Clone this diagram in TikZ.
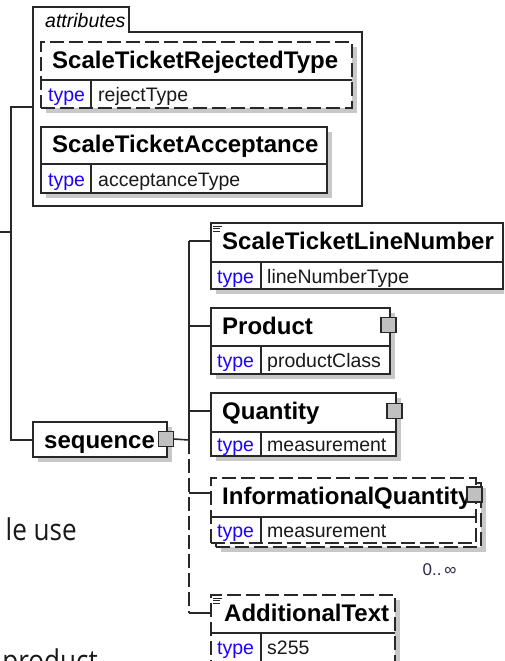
\documentclass[tikz,border=0pt]{standalone}
\usepackage{fontspec}
\setmainfont{Liberation Sans}
\newfontfamily\docfont{Open Sans}
\usetikzlibrary{calc,shadows}
\definecolor{linec}{RGB}{40,40,40}
\definecolor{shadowc}{RGB}{200,200,200}
\definecolor{sqc}{RGB}{192,192,192}
\definecolor{typec}{RGB}{30,0,255}
\definecolor{occc}{RGB}{40,40,80}
\definecolor{doctext}{RGB}{25,25,25}
\newcommand\namefont{\fontsize{24}{28}\selectfont\bfseries}
\newcommand\rowfont{\fontsize{19.5}{23}\selectfont}
\newcommand\rowlines[3]{%
  \draw[boxline] ($(#1.north west)+(0,#2)$) -- ($(#1.north east)+(0,#2)$);
  \draw[boxline] ($(#1.north west)+(#3,#2)$) -- ($(#1.south west)+(#3,0)$);}
\newcommand\docicon[1]{%
  \draw[linec, line width=0.9pt] ($(#1.north west)+(2,3)$) -- +(9,0)
    ($(#1.north west)+(2,5.5)$) -- +(7,0)
    ($(#1.north west)+(2,8)$) -- +(7,0);}
\begin{document}
\begin{tikzpicture}[x=1pt,y=-1pt,
  boxline/.style={draw=linec, line width=1.6pt},
  conn/.style={draw=linec, line width=1.6pt},
  optline/.style={dash pattern=on 14pt off 5pt},
  elembox/.style={rectangle, draw=linec, line width=1.6pt, fill=white,
    inner sep=0pt, outer sep=0pt, anchor=north west,
    drop shadow={shadow xshift=5pt, shadow yshift=-5pt, opacity=1, fill=shadowc, draw=none}},
  plainbox/.style={rectangle, draw=linec, line width=1.6pt, fill=white,
    inner sep=0pt, outer sep=0pt, anchor=north west},
  optbox/.style={elembox, optline},
  nametext/.style={font=\namefont, anchor=base west, inner sep=0pt, text=black},
  typetext/.style={font=\rowfont, anchor=base west, inner sep=0pt, text=typec},
  valtext/.style={font=\rowfont, anchor=base west, inner sep=0pt, text=black!90},
  bgtext/.style={font=\docfont\fontsize{30}{36}\selectfont, anchor=base east, inner sep=0pt, text=doctext},
  kidsq/.style={rectangle, minimum size=15pt, draw=linec, fill=sqc, line width=1.5pt,
    inner sep=0pt, outer sep=0pt}
]
\useasboundingbox (0,0) rectangle (504,661);
\clip (0,0) rectangle (504,661);

% background document text
\node[bgtext] (bg1) at (77,540.7) {\scalebox{0.87}[1]{le use}};
\node[bgtext] (bg2) at (98,671) {\scalebox{0.87}[1]{product}};

% attributes group
\node[inner sep=0pt, outer sep=0pt, minimum width=329pt, minimum height=174pt, anchor=north west] (attrgrp) at (33,32) {};
\draw[boxline] (attrgrp.south west) -- (33,7) -- (129,7) -- (129,32) -- (attrgrp.north east) -- (attrgrp.south east) -- cycle;
\node[font=\rowfont\itshape, anchor=base west, inner sep=0pt] (attrlbl) at (45,27.5) {attributes};

% ScaleTicketRejectedType (optional)
\node[optbox, minimum width=311pt, minimum height=66pt] (str) at (41,42) {};
\rowlines{str}{38}{50}
\node[nametext] (strn) at (52,68) {ScaleTicketRejectedType};
\node[typetext] (strt) at (48,101) {type};
\node[valtext] (strv) at (98,101) {rejectType};

% ScaleTicketAcceptance
\node[elembox, minimum width=286pt, minimum height=66pt] (sta) at (41,127) {};
\rowlines{sta}{37}{50}
\node[nametext] (stan) at (52,152.5) {ScaleTicketAcceptance};
\node[typetext] (stat) at (48,186) {type};
\node[valtext] (stav) at (98,186) {acceptanceType};

% sequence
\node[elembox, minimum width=134pt, minimum height=35pt] (seq) at (33,422) {};
\node[nametext] (seqn) at (44,448) {sequence};
\node[kidsq] (seqsq) at (166,439) {};

% ScaleTicketLineNumber
\node[elembox, minimum width=292pt, minimum height=66pt] (stln) at (211,223) {};
\rowlines{stln}{39}{50}
\docicon{stln}
\node[nametext] (stlnn) at (222,249.5) {ScaleTicketLineNumber};
\node[typetext] (stlnt) at (217,283) {type};
\node[valtext] (stlnv) at (267,283) {lineNumberType};

% Product
\node[elembox, minimum width=179pt, minimum height=66pt] (prod) at (211,308) {};
\rowlines{prod}{38}{50}
\node[nametext] (prodn) at (222,334) {Product};
\node[typetext] (prodt) at (217,367) {type};
\node[valtext] (prodv) at (267,367) {productClass};
\node[kidsq] (prodsq) at (388.5,325) {};

% Quantity
\node[elembox, minimum width=185pt, minimum height=63pt] (qty) at (211,393) {};
\rowlines{qty}{39}{50}
\node[nametext] (qtyn) at (222,419.5) {Quantity};
\node[typetext] (qtyt) at (217,451) {type};
\node[valtext] (qtyv) at (267,451) {measurement};
\node[kidsq] (qtysq) at (394.5,411) {};

% InformationalQuantity (optional, repeated)
\node[optbox, minimum width=265pt, minimum height=64pt] (iqb) at (216,483) {};
\node[plainbox, optline, minimum width=265pt, minimum height=65pt] (iq) at (211,478) {};
\rowlines{iq}{39}{50}
\node[nametext] (iqn) at (222,504.5) {InformationalQuantity};
\node[typetext] (iqt) at (217,537) {type};
\node[valtext] (iqv) at (267,537) {measurement};
\node[kidsq] (iqsq) at (474.5,494.5) {};
\node[font=\fontsize{17}{20}\selectfont, text=occc, inner sep=0pt] (iqocc) at (439.5,570) {0..\,∞};

% AdditionalText (optional)
\node[optbox, minimum width=184pt, minimum height=80pt] (addt) at (211,595) {};
\rowlines{addt}{38}{50}
\docicon{addt}
\node[nametext] (addtn) at (224,621) {AdditionalText};
\node[typetext] (addtt) at (217,654) {type};
\node[valtext] (addtv) at (267,654) {s255};

% left tree connectors
\coordinate (lt) at (11,107);
\coordinate (lm) at (11,232);
\coordinate (lb) at (11,440);
\coordinate (lf) at (0,232);
\draw[conn] (lt -| attrgrp.west) -- (lt) -- (lb) -- (lb -| seq.west);
\draw[conn] (lf) -- (lm);

% sequence spine
\coordinate (sp1) at (189,241);
\coordinate (sp2) at (189,326);
\coordinate (sp3) at (189,411);
\coordinate (spm) at (189,440);
\coordinate (sp4) at (189,493);
\coordinate (sp5) at (189,613);
\draw[conn] (seqsq.east) -- (spm);
\draw[conn] (sp1) -- (spm);
\draw[conn, optline] (spm) -- (sp5);
\draw[conn] (sp1) -- (sp1 -| stln.west);
\draw[conn] (sp2) -- (sp2 -| prod.west);
\draw[conn] (sp3) -- (sp3 -| qty.west);
\draw[conn] (sp4) -- (sp4 -| iq.west);
\draw[conn] (sp5) -- (sp5 -| addt.west);
\end{tikzpicture}
\end{document}
